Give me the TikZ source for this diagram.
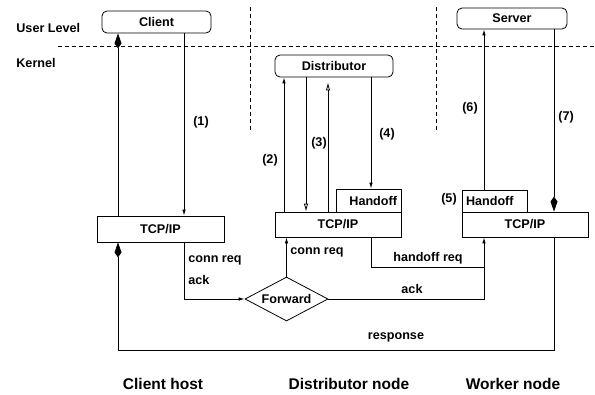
\documentclass[tikz,border=0pt]{standalone}
\usepackage{fontspec}
\setmainfont{Liberation Sans}
\usepackage{tikz}
\usetikzlibrary{shapes,arrows,positioning,calc,arrows.meta}

\tikzset{
  lbl/.style={font=\fontsize{12.6}{14}\selectfont\bfseries, inner sep=0pt},
  big/.style={font=\fontsize{15.5}{18}\selectfont\bfseries, inner sep=0pt},
  app/.style={draw, rounded corners=5pt, lbl},
  stack/.style={draw, lbl, inner xsep=4pt},
  sm/.style={-{Latex[length=6pt,width=3.5pt]}},
  op/.style={-{Latex[open,length=8pt,width=4.5pt]}},
  kt/.style={-{Kite[length=15pt,width=7pt,inset=5pt]}},
  sep/.style={dash pattern=on 4pt off 3pt, line width=0.7pt}
}

\begin{document}
\begin{tikzpicture}[x=1pt,y=-1pt,line width=0.8pt]
    \useasboundingbox (0,0) rectangle (595,394);

    % Levels
    \draw [sep] (58,46) -- (595,46);
    \draw [sep] (250,7) -- (250,133);
    \draw [sep] (436,7) -- (436,133);
    \node [lbl, anchor=west] (ulevel) at (16,28) {User Level};
    \node [lbl, anchor=west] (klevel) at (16,63) {Kernel};

    % line columns
    \coordinate (xa) at (118,0);
    \coordinate (xb) at (184,0);
    \coordinate (xc) at (284,0);
    \coordinate (xd) at (306,0);
    \coordinate (xe) at (328,0);
    \coordinate (xf) at (371,0);
    \coordinate (xg) at (484,0);
    \coordinate (xh) at (554,0);

    % Client host
    \node [app, minimum width=109, minimum height=22] (client) at (156.5,22) {Client};
    \node [stack, minimum width=127, minimum height=26] (tcpc) at (160.5,229) {TCP/IP};
    \draw [kt] (tcpc.north -| xa) -- (client.south -| xa);
    \draw [sm] (client.south -| xb) -- (tcpc.north -| xb);
    \node [lbl] (n1) at (201,122) {(1)};

    % Distributor node
    \node [app, minimum width=118, minimum height=22] (dist) at (334,66) {Distributor};
    \node [stack, minimum width=126, minimum height=25] (tcpd) at (338,224.5) {TCP/IP};
    \node [stack, text width=57, align=right, minimum height=23] (hod) at (368.5,200.5) {Handoff};
    \node [draw, diamond, lbl, aspect=1.9, minimum width=83, minimum height=44] (fwd) at (286.5,299) {Forward};
    \draw [sm] (tcpd.north -| xc) -- (dist.south -| xc);
    \draw [op] (dist.south -| xd) -- (tcpd.north -| xd);
    \draw [op] (tcpd.north -| xe) -- ($(dist.south -| xe)+(0,5)$);
    \draw [sm] (dist.south -| xf) -- (hod.north -| xf);
    \node [lbl] (n2) at (270,160) {(2)};
    \node [lbl] (n3) at (319,143) {(3)};
    \node [lbl] (n4) at (387,134) {(4)};

    % Worker node
    \node [app, minimum width=110, minimum height=21] (server) at (512,18.5) {Server};
    \node [stack, minimum width=126, minimum height=25] (tcpw) at (525,224.5) {TCP/IP};
    \node [stack, text width=57, align=left, minimum height=22] (how) at (494.5,201) {Handoff};
    \draw [sm] (how.north -| xg) -- (server.south -| xg);
    \draw [kt] (server.south -| xh) -- (tcpw.north -| xh);
    \node [lbl] (n5) at (449,199) {(5)};
    \node [lbl] (n6) at (470,108) {(6)};
    \node [lbl] (n7) at (566,117) {(7)};

    % Messages
    \coordinate (hj) at ($(tcpw.south -| xg)+(0,30)$);
    \draw [sm] (tcpc.south -| xb) |- (fwd.west);
    \node [lbl, anchor=west] (creq1) at (188,260) {conn req};
    \node [lbl, anchor=west] (ack1) at (188,280) {ack};
    \draw [sm] (fwd.north) -- (tcpd.south -| fwd.north);
    \node [lbl, anchor=west] (creq2) at (290,252) {conn req};
    \draw [sm] (tcpd.south -| xf) |- (hj) -- (tcpw.south -| xg);
    \node [lbl] (hreq) at (428,258) {handoff req};
    \draw (fwd.east) -| (hj);
    \node [lbl] (ack2) at (412,289) {ack};
    \draw [kt] (tcpw.south -| xh) -- ++(0,113) -| (tcpc.south -| xa);
    \node [lbl] (resp) at (396,337) {response};

    % Hosts
    \node [big] (hclient) at (163,384) {Client host};
    \node [big] (hdist) at (349,384) {Distributor node};
    \node [big] (hworker) at (513,384) {Worker node};
\end{tikzpicture}
\end{document}
